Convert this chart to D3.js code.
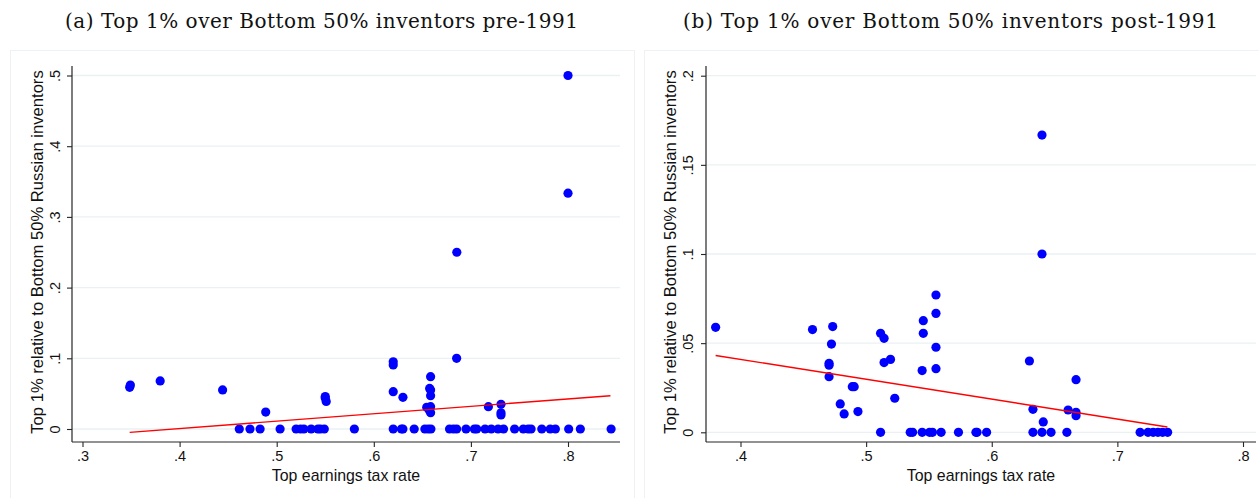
<!DOCTYPE html>
<html>
<head>
<meta charset="utf-8">
<script src="https://cdn.jsdelivr.net/npm/d3@7"></script>
<style>
  html, body { margin: 0; padding: 0; background: #fff; }
  svg { display: block; }
</style>
</head>
<body>
<svg id="chart" width="1259" height="498"></svg>
<script>
// ---------------- DATA ----------------
const titles = [
  "(a) Top 1% over Bottom 50% inventors pre-1991",
  "(b) Top 1% over Bottom 50% inventors post-1991"
];
const xAxisTitle = "Top earnings tax rate";
const yAxisTitle = "Top 1% relative to Bottom 50% Russian inventors";

// Panel (a): pre-1991
const preX = [
  0.3486, 0.3493, 0.380, 0.4443, 0.4887, 0.550, 0.550, 0.551,
  0.620, 0.620, 0.620, 0.630, 0.6585, 0.6575, 0.6585, 0.6585, 0.6545, 0.6585, 0.6585, 0.657,
  0.6855, 0.6853, 0.718, 0.731, 0.731, 0.731, 0.800, 0.800,
  0.4615, 0.4725, 0.4829, 0.5035, 0.520, 0.5245, 0.528, 0.5355, 0.5424, 0.545, 0.549, 0.580,
  0.620, 0.6285, 0.630, 0.6416, 0.6526, 0.656, 0.6588, 0.678, 0.682, 0.6853, 0.695, 0.7036,
  0.706, 0.7146, 0.721, 0.728, 0.7336, 0.745, 0.754, 0.759, 0.762, 0.773, 0.7817, 0.787,
  0.8007, 0.8127, 0.8444
];
const preY = [
  0.059, 0.0622, 0.068, 0.0552, 0.024, 0.046, 0.044, 0.039,
  0.095, 0.0905, 0.0528, 0.0448, 0.074, 0.0574, 0.055, 0.047, 0.0306, 0.0316, 0.023, 0.027,
  0.25, 0.1, 0.0316, 0.035, 0.023, 0.0198, 0.5, 0.3335,
  0, 0, 0, 0, 0, 0, 0, 0, 0, 0, 0, 0,
  0, 0, 0, 0, 0, 0, 0, 0, 0, 0, 0, 0,
  0, 0, 0, 0, 0, 0, 0, 0, 0, 0, 0, 0,
  0, 0, 0
];
const preFitX = [0.3486, 0.8437];
const preFitY = [-0.0047, 0.0471];
const preXTicks = [0.3, 0.4, 0.5, 0.6, 0.7, 0.8];
const preXTickLabels = [".3", ".4", ".5", ".6", ".7", ".8"];
const preYTicks = [0, 0.1, 0.2, 0.3, 0.4, 0.5];
const preYTickLabels = ["0", ".1", ".2", ".3", ".4", ".5"];

// Panel (b): post-1991
const postX = [
  0.3802, 0.4573, 0.4734, 0.4724, 0.4705, 0.4705, 0.4705, 0.4890, 0.4905, 0.4794, 0.4825, 0.4935,
  0.5115, 0.5143, 0.5143, 0.5194, 0.5228, 0.5455, 0.5455, 0.5446, 0.5556, 0.5556, 0.5556, 0.5556,
  0.630, 0.6328, 0.640, 0.640, 0.641, 0.6608, 0.6671, 0.6671, 0.6671,
  0.5115, 0.5351, 0.537, 0.5446, 0.5505, 0.5528, 0.5597, 0.5735, 0.5874, 0.5883, 0.5959,
  0.6328, 0.640, 0.6472, 0.6598, 0.7181, 0.7244, 0.7285, 0.7323, 0.736, 0.740
];
const postY = [
  0.0589, 0.0576, 0.0593, 0.0495, 0.0387, 0.0376, 0.0312, 0.0256, 0.0256, 0.0159, 0.0103, 0.0116,
  0.0555, 0.0527, 0.0391, 0.0409, 0.0191, 0.0626, 0.0555, 0.0346, 0.077, 0.0667, 0.0477, 0.0357,
  0.040, 0.0129, 0.1667, 0.1, 0.0058, 0.0125, 0.0295, 0.0112, 0.0093,
  0, 0, 0, 0, 0, 0, 0, 0, 0, 0, 0,
  0, 0, 0, 0, 0, 0, 0, 0, 0, 0
];
const postFitX = [0.3802, 0.7398];
const postFitY = [0.0431, 0.0030];
const postXTicks = [0.4, 0.5, 0.6, 0.7, 0.8];
const postXTickLabels = [".4", ".5", ".6", ".7", ".8"];
const postYTicks = [0, 0.05, 0.1, 0.15, 0.2];
const postYTickLabels = ["0", ".05", ".1", ".15", ".2"];

// ---------------- LAYOUT ----------------
const svg = d3.select("#chart");
const gridColor = "#eaf1f3";
const frameColor = "#eef2f4";
const axisColor = "#262626";
const dotColor = "#0000ff";
const fitColor = "#ff0000";

const panels = [
  {
    title: titles[0], titleX: 321.5, titleW: 513,
    frame: {x: 10, y: 50, w: 624, h: 460},
    plot: {left: 72, right: 620, top: 66, bottom: 442},
    xDom: [0.3, 0.8], xRng: [82.5, 568],
    yDom: [0, 0.5], yRng: [429, 75.5],
    xs: preX, ys: preY, fitX: preFitX, fitY: preFitY,
    xTicks: preXTicks, xLabels: preXTickLabels,
    yTicks: preYTicks, yLabels: preYTickLabels,
    yTickBase: 59.5, yTitleBase: 42.5
  },
  {
    title: titles[1], titleX: 950.5, titleW: 535,
    frame: {x: 644, y: 50, w: 640, h: 460},
    plot: {left: 706, right: 1256, top: 66, bottom: 442},
    xDom: [0.4, 0.8], xRng: [740.5, 1243],
    yDom: [0, 0.2], yRng: [432.3, 75.7],
    xs: postX, ys: postY, fitX: postFitX, fitY: postFitY,
    xTicks: postXTicks, xLabels: postXTickLabels,
    yTicks: postYTicks, yLabels: postYTickLabels,
    yTickBase: 692.5, yTitleBase: 676
  }
];

panels.forEach(p => {
  const g = svg.append("g");
  // graph region frame
  g.append("rect")
    .attr("x", p.frame.x + 0.5).attr("y", p.frame.y + 0.5)
    .attr("width", p.frame.w).attr("height", p.frame.h)
    .attr("fill", "#fff").attr("stroke", frameColor).attr("stroke-width", 1);

  // title
  g.append("text")
    .attr("x", p.titleX).attr("y", 27.5)
    .attr("text-anchor", "middle")
    .attr("font-family", "'DejaVu Serif', 'Liberation Serif', serif")
    .attr("font-size", 20)
    .attr("textLength", p.titleW)
    .attr("lengthAdjust", "spacing")
    .attr("fill", "#111")
    .text(p.title);

  const x = d3.scaleLinear().domain(p.xDom).range(p.xRng);
  const y = d3.scaleLinear().domain(p.yDom).range(p.yRng);

  // gridlines
  g.append("g").selectAll("line").data(p.yTicks).join("line")
    .attr("x1", p.plot.left).attr("x2", p.plot.right)
    .attr("y1", d => y(d)).attr("y2", d => y(d))
    .attr("stroke", gridColor).attr("stroke-width", 1.3);

  // x axis
  const xAxis = d3.axisBottom(x)
    .tickValues(p.xTicks)
    .tickFormat((d, i) => p.xLabels[i])
    .tickSizeInner(5).tickSizeOuter(0).tickPadding(4);
  const gx = g.append("g").attr("transform", `translate(0,${p.plot.bottom})`).call(xAxis);
  gx.select(".domain").remove();
  gx.selectAll(".tick line").attr("stroke", axisColor).attr("stroke-width", 1.1);
  gx.selectAll(".tick text")
    .attr("font-family", "'Liberation Sans', Arial, sans-serif")
    .attr("font-size", 14.5).attr("fill", "#111");
  g.append("line")
    .attr("x1", p.plot.left).attr("x2", p.plot.right)
    .attr("y1", p.plot.bottom).attr("y2", p.plot.bottom)
    .attr("stroke", axisColor).attr("stroke-width", 1.2);

  // y axis
  const yAxis = d3.axisLeft(y)
    .tickValues(p.yTicks)
    .tickFormat((d, i) => p.yLabels[i])
    .tickSizeInner(5).tickSizeOuter(0);
  const gy = g.append("g").attr("transform", `translate(${p.plot.left},0)`).call(yAxis);
  gy.select(".domain").remove();
  gy.selectAll(".tick line").attr("stroke", axisColor).attr("stroke-width", 1.1);
  gy.selectAll(".tick text")
    .attr("x", null).attr("dy", null)
    .attr("transform", `translate(${p.yTickBase - p.plot.left},0) rotate(-90)`)
    .attr("text-anchor", "middle")
    .attr("font-family", "'Liberation Sans', Arial, sans-serif")
    .attr("font-size", 14.5).attr("fill", "#111");
  g.append("line")
    .attr("x1", p.plot.left).attr("x2", p.plot.left)
    .attr("y1", p.plot.top).attr("y2", p.plot.bottom)
    .attr("stroke", axisColor).attr("stroke-width", 1.2);

  // axis titles
  g.append("text")
    .attr("x", (p.plot.left + p.plot.right) / 2).attr("y", 480.5)
    .attr("text-anchor", "middle")
    .attr("font-family", "'Liberation Sans', Arial, sans-serif")
    .attr("font-size", 15.9).attr("fill", "#111")
    .text(xAxisTitle);
  g.append("text")
    .attr("transform", `translate(${p.yTitleBase},${(p.plot.top + p.plot.bottom) / 2 - 2}) rotate(-90)`)
    .attr("text-anchor", "middle")
    .attr("font-family", "'Liberation Sans', Arial, sans-serif")
    .attr("font-size", 16.6).attr("fill", "#111")
    .text(yAxisTitle);

  // points
  const pts = p.xs.map((v, i) => [v, p.ys[i]]);
  g.append("g").selectAll("circle").data(pts).join("circle")
    .attr("cx", d => x(d[0])).attr("cy", d => y(d[1]))
    .attr("r", 4.6).attr("fill", dotColor);

  // fitted line
  const fit = p.fitX.map((v, i) => [v, p.fitY[i]]);
  g.append("path")
    .datum(fit)
    .attr("d", d3.line().x(d => x(d[0])).y(d => y(d[1])))
    .attr("fill", "none").attr("stroke", fitColor).attr("stroke-width", 1.4);
});
</script>
</body>
</html>
